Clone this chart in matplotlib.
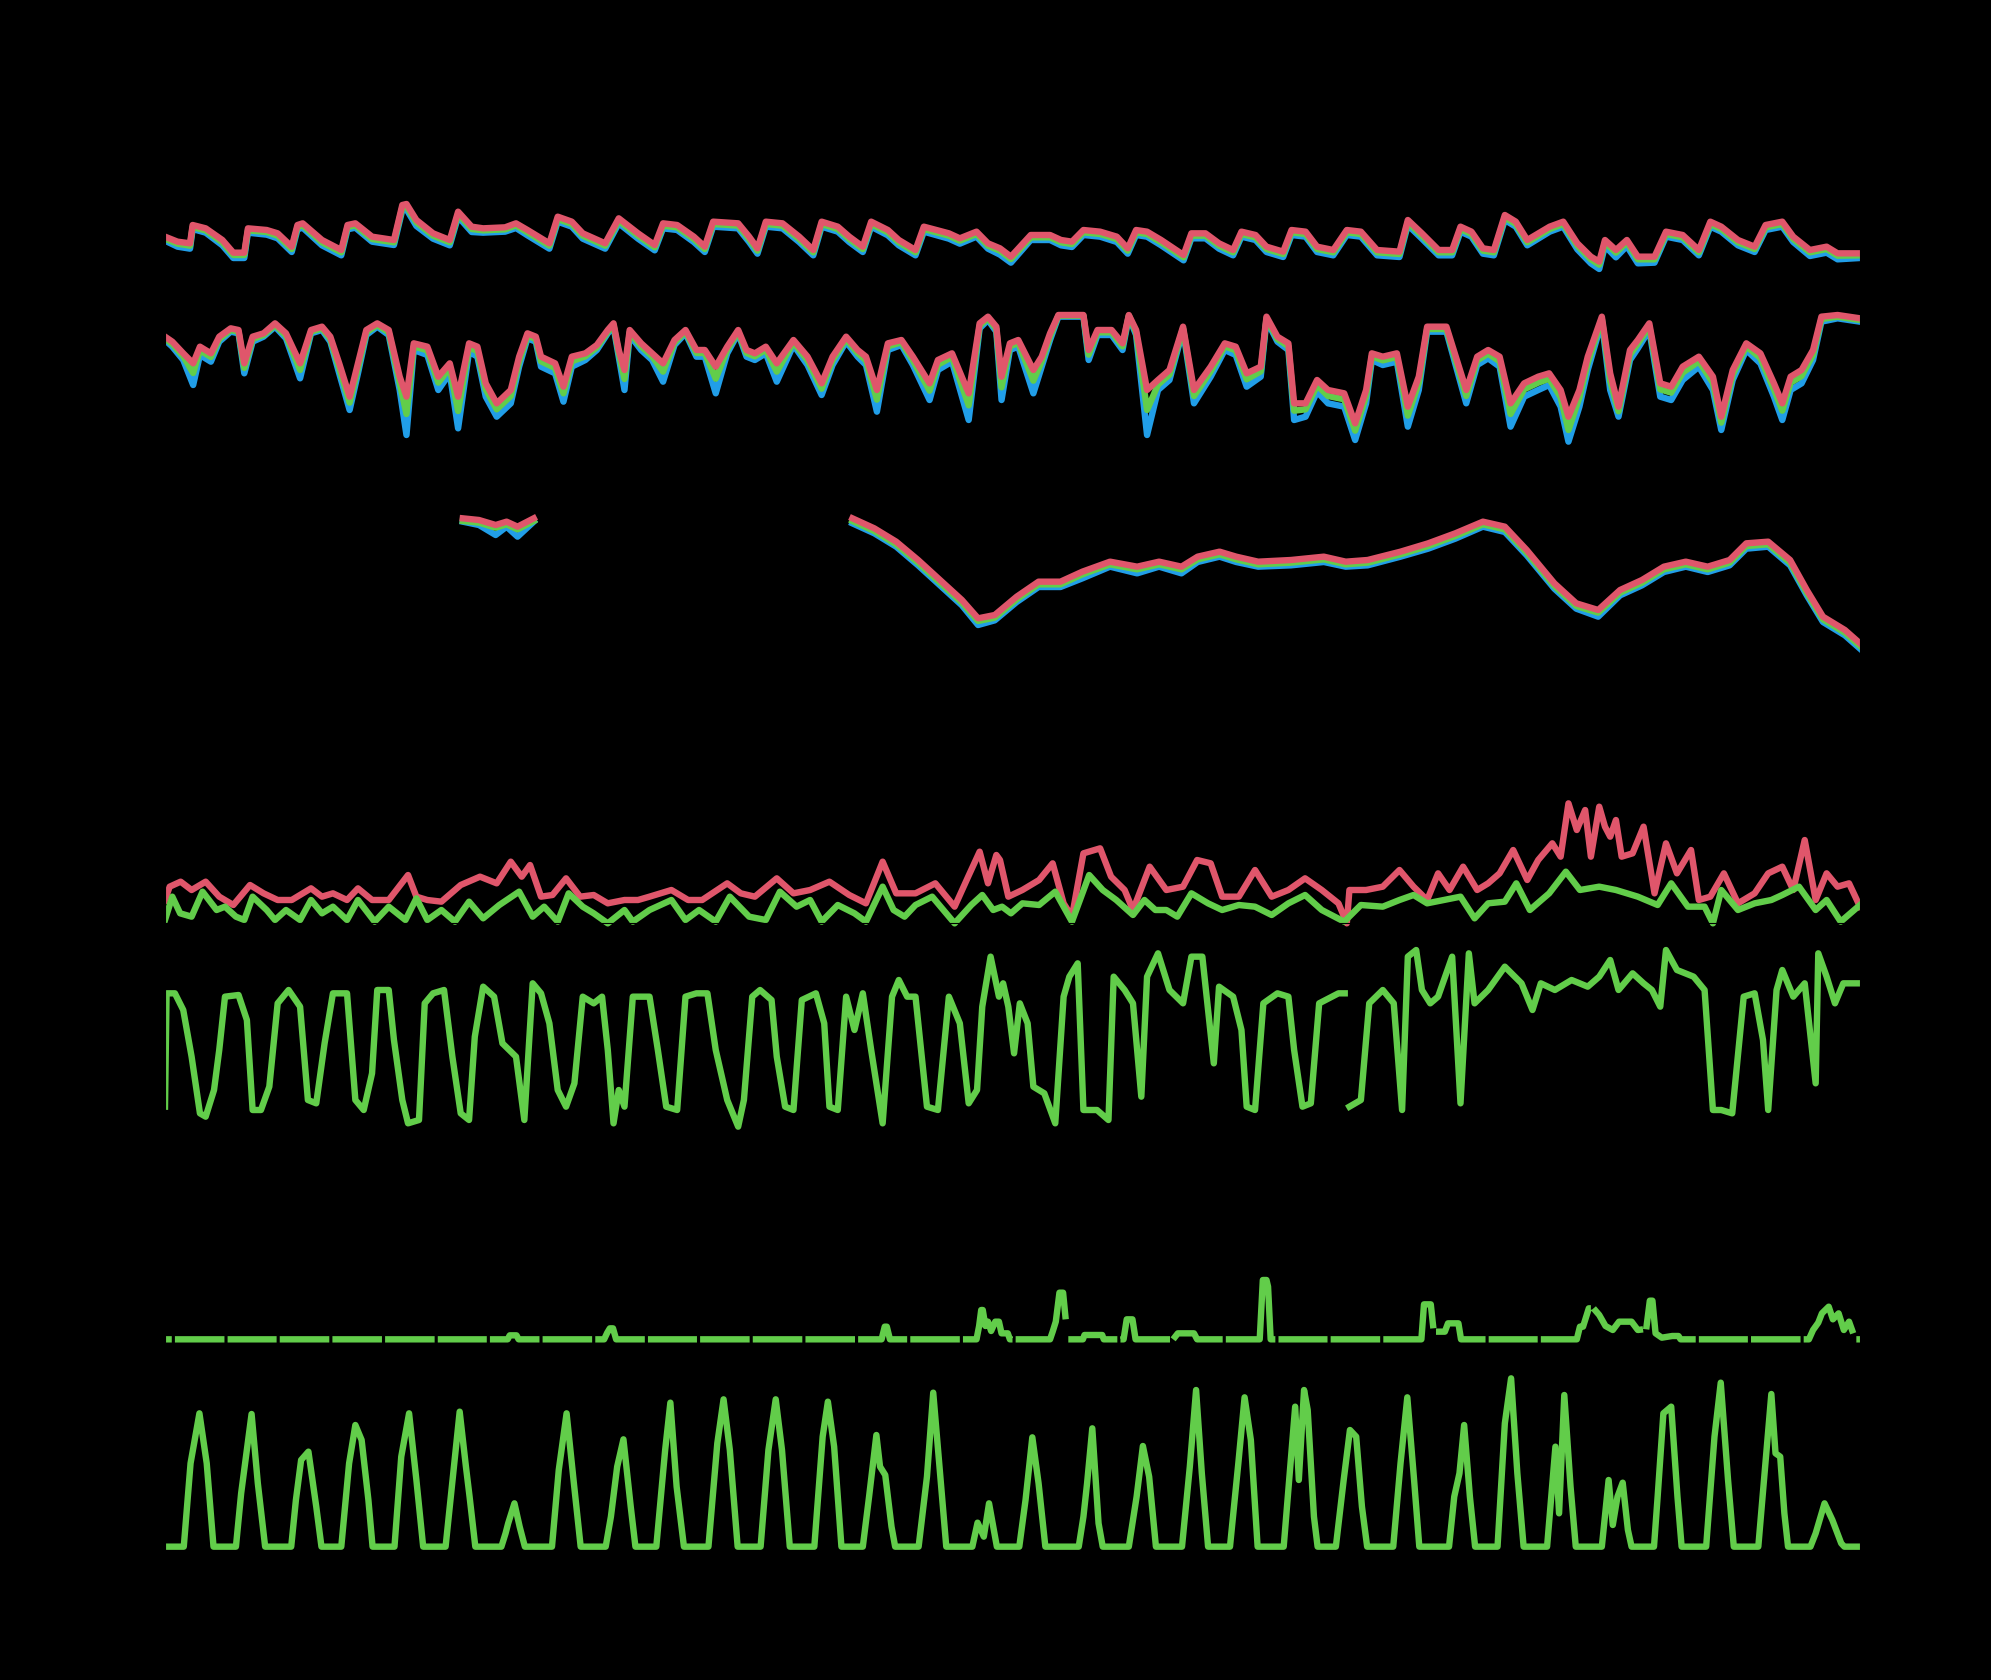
import matplotlib
matplotlib.use("Agg")
import matplotlib.pyplot as plt
import numpy as np

nan = np.nan

RED = "#e0566b"
GREEN = "#62cd4a"
BLUE = "#219ee8"

# ---- panel 1: three sensors, daily cycle ----
p1_t = [0.00, 0.24, 0.48, 0.53, 0.78, 1.10, 1.31, 1.52, 1.59, 1.95,
        2.16, 2.43, 2.54, 2.64, 3.01, 3.38, 3.50, 3.65, 3.97, 4.39,
        4.55, 4.63, 4.82, 5.14, 5.46, 5.62, 5.88, 6.10, 6.52, 6.73,
        6.95, 7.37, 7.53, 7.80, 8.01, 8.44, 8.70, 9.07, 9.39, 9.55,
        9.82, 10.14, 10.35, 10.51, 10.99, 11.20, 11.36, 11.52, 11.84, 12.16,
        12.43, 12.59, 12.90, 13.12, 13.38, 13.54, 13.86, 14.07, 14.39, 14.55,
        15.03, 15.24, 15.56, 15.78, 16.01, 16.22, 16.60, 16.97, 17.18, 17.39,
        17.61, 17.93, 18.25, 18.46, 18.62, 18.83, 19.10, 19.53, 19.68, 19.95,
        20.21, 20.48, 20.64, 20.91, 21.12, 21.44, 21.60, 21.87, 22.09, 22.40,
        22.66, 22.93, 23.24, 23.67, 23.83, 24.10, 24.42, 24.68, 24.84, 25.05,
        25.27, 25.48, 25.69, 25.90, 26.12, 26.55, 26.81, 27.08, 27.34, 27.50,
        27.61, 27.82, 28.03, 28.24, 28.56, 28.78, 29.10, 29.41, 29.63, 29.84,
        30.16, 30.48, 30.69, 31.01, 31.22, 31.54, 31.86, 32.07, 32.50]
p1_red = [16.0, 14.5, 14.0, 19.5, 18.5, 15.0, 11.2, 11.2, 18.5, 18.0,
          17.0, 13.0, 19.5, 20.0, 15.0, 12.0, 19.5, 20.0, 16.0, 15.0,
          25.5, 25.8, 21.0, 17.0, 15.0, 23.5, 19.0, 18.5, 18.8, 20.0,
          18.0, 14.0, 22.0, 20.5, 17.0, 14.0, 21.5, 17.0, 13.5, 20.0,
          19.5, 16.0, 13.0, 20.5, 20.0, 16.0, 12.5, 20.5, 20.0, 16.0,
          12.0, 20.5, 19.0, 16.0, 13.0, 20.5, 18.0, 15.0, 12.0, 19.0,
          17.0, 15.5, 17.5, 14.0, 12.5, 10.0, 16.5, 16.5, 15.0, 14.5,
          18.0, 17.5, 16.0, 12.5, 18.0, 17.5, 15.0, 10.5, 17.0, 17.0,
          14.0, 12.0, 17.5, 16.5, 13.0, 11.5, 18.0, 17.5, 13.0, 12.0,
          18.0, 17.5, 12.0, 11.5, 21.0, 17.0, 12.0, 12.0, 19.0, 17.5,
          12.5, 12.0, 22.5, 20.5, 15.0, 19.0, 20.5, 14.0, 10.0, 8.5,
          15.0, 12.0, 15.0, 10.0, 10.0, 17.5, 16.5, 12.0, 20.5, 19.0,
          15.0, 13.0, 19.5, 20.5, 16.0, 12.0, 13.0, 11.0, 11.0]
p1_green = [15.4, 13.9, 13.3, 18.9, 17.9, 14.3, 10.5, 10.5, 17.9, 17.4,
            16.3, 12.3, 18.9, 19.4, 14.3, 11.3, 18.9, 19.4, 15.3, 14.3,
            24.8, 25.1, 20.3, 16.3, 14.3, 22.8, 18.3, 17.9, 18.2, 19.4,
            17.3, 13.3, 21.3, 19.8, 16.3, 13.3, 20.8, 16.3, 12.8, 19.3,
            18.8, 15.3, 12.3, 19.8, 19.3, 15.3, 11.8, 19.8, 19.3, 15.3,
            11.3, 19.8, 18.3, 15.3, 12.3, 19.8, 17.3, 14.3, 11.3, 18.3,
            16.3, 14.8, 16.8, 13.3, 11.8, 9.3, 15.8, 15.8, 14.3, 13.8,
            17.3, 16.8, 15.3, 11.8, 17.3, 16.8, 14.3, 9.8, 16.3, 16.3,
            13.3, 11.3, 16.8, 15.8, 12.3, 10.8, 17.3, 16.8, 12.3, 11.3,
            17.3, 16.8, 11.3, 10.8, 20.3, 16.3, 11.3, 11.3, 18.3, 16.8,
            11.8, 11.3, 21.8, 19.8, 14.3, 18.3, 19.8, 13.3, 9.2, 7.6,
            14.3, 11.2, 14.3, 9.2, 9.2, 16.8, 15.8, 11.3, 19.8, 18.3,
            14.3, 12.3, 18.8, 19.8, 15.3, 11.3, 12.3, 10.3, 10.4]
p1_blue = [14.8, 13.0, 12.4, 18.3, 17.2, 13.4, 9.6, 9.6, 17.2, 16.6,
           15.5, 11.4, 18.2, 18.7, 13.4, 10.4, 18.2, 18.7, 14.5, 13.5,
           24.0, 24.2, 19.2, 15.4, 13.4, 22.0, 17.4, 17.2, 17.5, 18.6,
           16.4, 12.4, 20.5, 19.0, 15.4, 12.4, 20.0, 15.4, 11.9, 18.5,
           18.0, 14.4, 11.4, 19.0, 18.5, 14.4, 10.9, 19.0, 18.5, 14.4,
           10.4, 19.0, 17.5, 14.4, 11.4, 19.0, 16.4, 13.4, 10.4, 17.5,
           15.4, 13.9, 16.0, 12.4, 10.6, 8.2, 15.0, 15.0, 13.4, 12.9,
           16.5, 16.0, 14.4, 10.9, 16.5, 16.0, 13.4, 8.9, 15.5, 15.5,
           12.4, 10.4, 16.0, 15.0, 11.4, 9.9, 16.5, 16.0, 11.4, 10.4,
           16.5, 16.0, 10.4, 9.9, 19.5, 15.4, 10.4, 10.4, 17.5, 16.0,
           10.9, 10.4, 21.0, 19.0, 13.4, 17.5, 19.0, 12.2, 8.0, 6.3,
           13.2, 9.8, 13.2, 8.0, 8.2, 16.0, 15.0, 10.4, 19.0, 17.5,
           13.4, 11.4, 18.0, 19.0, 14.4, 10.2, 11.2, 9.2, 9.6]

# ---- panel 2: three sensors ----
p2_t = [0.00, 0.14, 0.35, 0.54, 0.67, 0.88, 1.04, 1.26, 1.41, 1.52,
        1.68, 1.89, 2.11, 2.32, 2.59, 2.80, 3.01, 3.17, 3.34, 3.54,
        3.70, 3.86, 4.07, 4.29, 4.50, 4.63, 4.77, 5.03, 5.24, 5.46,
        5.62, 5.83, 5.99, 6.15, 6.36, 6.63, 6.79, 6.95, 7.11, 7.21,
        7.48, 7.64, 7.80, 8.06, 8.28, 8.49, 8.60, 8.70, 8.81, 8.91,
        9.13, 9.34, 9.55, 9.77, 9.98, 10.19, 10.35, 10.56, 10.78, 10.99,
        11.15, 11.31, 11.52, 11.73, 12.05, 12.32, 12.59, 12.80, 13.06, 13.28,
        13.44, 13.65, 13.86, 14.12, 14.34, 14.66, 14.82, 15.09, 15.41, 15.62,
        15.78, 15.94, 16.04, 16.20, 16.36, 16.65, 16.81, 16.97, 17.13, 17.61,
        17.71, 17.88, 18.15, 18.36, 18.48, 18.62, 18.83, 19.04, 19.26, 19.52,
        19.73, 20.05, 20.32, 20.53, 20.74, 21.01, 21.12, 21.33, 21.54, 21.65,
        21.87, 22.09, 22.30, 22.61, 22.82, 23.03, 23.14, 23.35, 23.62, 23.83,
        24.04, 24.20, 24.57, 24.79, 24.95, 25.16, 25.37, 25.59, 25.80, 26.06,
        26.33, 26.54, 26.76, 26.91, 27.12, 27.28, 27.55, 27.71, 27.87, 28.09,
        28.24, 28.46, 28.67, 28.88, 29.10, 29.41, 29.68, 29.84, 30.06, 30.32,
        30.59, 30.85, 31.01, 31.17, 31.38, 31.60, 31.76, 32.07, 32.29, 32.50]
p2_red = [36.0, 34.5, 31.0, 28.0, 33.0, 31.0, 36.0, 38.5, 38.0, 28.0,
          36.0, 37.0, 40.0, 37.0, 28.0, 38.0, 39.0, 36.0, 28.0, 18.0,
          28.0, 38.0, 40.0, 38.0, 24.0, 18.0, 34.0, 33.0, 24.0, 28.0,
          18.0, 34.0, 33.0, 22.0, 16.0, 20.0, 30.0, 37.0, 36.0, 30.0,
          28.0, 21.0, 30.0, 31.0, 33.5, 38.0, 40.0, 32.0, 26.0, 38.0,
          34.0, 31.0, 28.0, 35.0, 38.0, 32.0, 32.0, 27.0, 33.0, 38.0,
          32.0, 31.0, 33.0, 28.0, 35.0, 30.0, 22.0, 30.0, 36.0, 32.0,
          30.0, 20.0, 34.0, 35.0, 30.0, 22.0, 29.0, 31.0, 19.0, 40.0,
          42.0, 39.0, 24.0, 34.0, 35.0, 26.0, 30.0, 37.0, 42.5, 42.5,
          32.0, 38.0, 38.0, 34.0, 42.5, 38.0, 20.0, 23.0, 26.0, 39.0,
          20.0, 27.0, 34.0, 33.0, 25.0, 27.0, 42.0, 36.0, 34.0, 16.0,
          16.0, 23.0, 20.0, 19.0, 10.0, 20.0, 31.0, 30.0, 31.0, 15.0,
          24.0, 39.0, 39.0, 28.0, 20.0, 30.0, 32.0, 30.0, 16.0, 22.0,
          24.0, 25.0, 20.0, 12.0, 20.0, 30.0, 42.0, 25.0, 15.0, 32.0,
          35.0, 40.0, 22.0, 21.0, 27.0, 30.0, 24.0, 12.0, 26.0, 34.0,
          31.0, 22.0, 16.0, 24.0, 26.0, 32.0, 42.0, 42.5, 42.0, 41.5]
p2_green = [35.5, 33.8, 30.1, 25.1, 31.9, 29.9, 35.3, 38.0, 37.5, 26.6,
            35.3, 36.5, 39.5, 36.3, 26.0, 37.5, 38.5, 35.3, 26.6, 16.2,
            26.6, 37.3, 39.5, 37.3, 22.2, 12.8, 33.1, 31.9, 22.2, 26.6,
            13.7, 32.9, 31.6, 20.2, 14.2, 18.2, 28.6, 36.3, 35.3, 28.6,
            26.6, 19.0, 28.6, 30.1, 32.8, 37.5, 39.5, 31.1, 23.3, 37.3,
            33.1, 30.1, 25.5, 34.3, 37.5, 31.1, 31.1, 23.4, 32.1, 37.5,
            31.1, 30.1, 32.1, 25.5, 34.3, 28.9, 20.4, 28.9, 35.3, 31.1,
            28.9, 17.1, 33.1, 34.3, 28.9, 19.8, 27.6, 29.9, 15.4, 39.3,
            41.5, 38.3, 20.8, 33.1, 34.1, 22.8, 28.6, 36.1, 42.3, 42.3,
            30.6, 37.3, 37.3, 33.1, 42.3, 37.3, 14.0, 21.6, 24.6, 38.5,
            18.2, 25.6, 33.1, 31.9, 23.2, 25.6, 41.5, 35.3, 33.1, 13.8,
            14.2, 21.4, 18.2, 17.2, 7.8, 18.2, 30.1, 28.9, 29.9, 12.3,
            22.2, 38.3, 38.3, 26.6, 18.2, 28.9, 30.9, 28.6, 12.8, 20.2,
            22.2, 23.4, 17.8, 8.0, 17.8, 28.2, 41.3, 22.8, 13.6, 30.6,
            33.9, 39.1, 20.2, 19.2, 25.2, 28.6, 22.2, 10.2, 24.6, 33.1,
            29.6, 20.2, 13.8, 22.2, 24.2, 30.6, 41.3, 42.0, 41.5, 41.0]
p2_blue = [35.0, 33.0, 29.0, 21.5, 30.5, 28.5, 34.5, 37.5, 37.0, 25.0,
           34.5, 36.0, 39.0, 35.5, 23.5, 37.0, 38.0, 34.5, 25.0, 14.0,
           25.0, 36.5, 39.0, 36.5, 20.0, 6.5, 32.0, 30.5, 20.0, 25.0,
           8.5, 31.5, 30.0, 18.0, 12.0, 16.0, 27.0, 35.5, 34.5, 27.0,
           25.0, 16.5, 27.0, 29.0, 32.0, 37.0, 39.0, 30.0, 20.0, 36.5,
           32.0, 29.0, 22.5, 33.5, 37.0, 30.0, 30.0, 19.0, 31.0, 37.0,
           30.0, 29.0, 31.0, 22.5, 33.5, 27.5, 18.5, 27.5, 34.5, 30.0,
           27.5, 13.5, 32.0, 33.5, 27.5, 17.0, 26.0, 28.5, 11.0, 38.5,
           41.0, 37.5, 17.0, 32.0, 33.0, 19.0, 27.0, 35.0, 42.0, 42.0,
           29.0, 36.5, 36.5, 32.0, 42.0, 36.5, 6.5, 20.0, 23.0, 38.0,
           16.0, 24.0, 32.0, 30.5, 21.0, 24.0, 41.0, 34.5, 32.0, 11.0,
           12.0, 19.5, 16.0, 15.0, 5.0, 16.0, 29.0, 27.5, 28.5, 9.0,
           20.0, 37.5, 37.5, 25.0, 16.0, 27.5, 29.5, 27.0, 9.0, 18.0,
           20.0, 21.5, 15.0, 4.5, 15.0, 26.0, 40.5, 20.0, 12.0, 29.0,
           32.5, 38.0, 18.0, 17.0, 23.0, 27.0, 20.0, 8.0, 23.0, 32.0,
           28.0, 18.0, 11.0, 20.0, 22.0, 29.0, 40.5, 41.5, 41.0, 40.5]

# ---- panel 3: three sensors, with a data gap ----
p3_t = [5.71, 6.02, 6.34, 6.55, 6.76, 7.07, 10.00, 13.18, 13.60, 14.02,
        14.44, 14.86, 15.28, 15.59, 15.91, 16.33, 16.75, 17.17, 17.59, 18.12,
        18.64, 19.06, 19.49, 19.80, 20.22, 20.54, 20.96, 21.59, 22.22, 22.64,
        23.06, 23.69, 24.22, 24.74, 25.27, 25.69, 26.11, 26.64, 27.06, 27.48,
        27.90, 28.32, 28.74, 29.16, 29.58, 30.00, 30.32, 30.74, 31.16, 31.48,
        31.79, 32.21, 32.50]
p3_red = [44.5, 44.0, 42.5, 43.5, 42.0, 44.5, nan, 44.5, 41.5, 37.5,
          32.0, 26.0, 20.0, 14.5, 15.5, 21.0, 25.5, 25.5, 28.5, 31.5,
          30.0, 31.5, 30.0, 33.0, 34.5, 33.0, 31.5, 32.0, 33.0, 31.5,
          32.0, 34.5, 37.0, 40.0, 43.5, 42.0, 35.0, 25.0, 19.0, 17.0,
          23.0, 26.0, 30.0, 31.5, 30.0, 32.0, 37.0, 37.5, 32.0, 23.0,
          15.0, 11.0, 7.0]
p3_green = [43.7, 43.2, 41.7, 42.7, 41.2, 43.7, nan, 43.7, 40.7, 36.7,
            31.2, 25.2, 19.2, 13.7, 14.7, 20.2, 24.7, 24.7, 27.7, 30.7,
            29.2, 30.7, 29.2, 32.2, 33.7, 32.2, 30.7, 31.2, 32.2, 30.7,
            31.2, 33.7, 36.2, 39.2, 42.7, 41.2, 34.2, 24.2, 18.2, 16.2,
            22.2, 25.2, 29.2, 30.7, 29.2, 31.2, 36.2, 36.7, 31.2, 22.2,
            14.2, 10.2, 6.2]
p3_blue = [43.5, 42.5, 39.5, 42.0, 39.0, 43.5, nan, 43.0, 40.0, 36.0,
           30.4, 24.4, 18.4, 12.5, 13.9, 19.4, 23.9, 23.9, 26.5, 30.0,
           28.0, 30.0, 28.0, 31.4, 33.0, 31.4, 30.0, 30.4, 31.4, 30.0,
           30.4, 33.0, 35.4, 38.4, 42.0, 40.4, 33.4, 23.4, 17.4, 15.0,
           21.4, 24.4, 28.4, 30.0, 28.4, 30.4, 35.4, 36.0, 30.4, 21.4,
           13.4, 9.4, 5.4]

# ---- panel 4: gust (red) and mean (green) ----
p4_red = [(0.00, 12.0), (0.09, 16.0), (0.30, 17.5), (0.51, 15.0), (0.78, 17.5),
          (1.04, 13.0), (1.31, 10.5), (1.63, 16.5), (1.89, 14.0), (2.16, 12.0),
          (2.43, 12.0), (2.80, 15.5), (3.01, 13.0), (3.22, 14.0), (3.49, 12.0),
          (3.70, 15.5), (3.97, 12.0), (4.29, 12.0), (4.66, 19.5), (4.82, 13.0),
          (5.03, 12.0), (5.30, 11.5), (5.67, 16.5), (6.04, 19.0), (6.36, 17.0),
          (6.63, 23.5), (6.84, 19.0), (7.00, 22.5), (7.21, 13.0), (7.43, 13.5),
          (7.69, 18.5), (7.96, 13.0), (8.22, 13.5), (8.49, 11.0), (8.81, 12.0),
          (9.07, 12.0), (9.29, 13.0), (9.71, 15.0), (10.03, 12.0), (10.30, 12.0),
          (10.78, 17.0), (11.04, 14.0), (11.31, 13.0), (11.73, 18.5), (12.05, 14.0),
          (12.37, 15.0), (12.74, 17.5), (13.12, 13.5), (13.44, 11.0), (13.76, 23.5),
          (14.02, 14.0), (14.39, 14.0), (14.77, 17.0), (15.14, 10.0), (15.40, 19.0),
          (15.62, 26.5), (15.78, 17.0), (15.94, 25.5), (16.01, 24.0), (16.17, 13.0),
          (16.44, 15.0), (16.76, 18.0), (17.02, 23.0), (17.23, 11.0), (17.39, 7.0),
          (17.61, 26.0), (17.93, 27.5), (18.14, 19.0), (18.40, 15.0), (18.56, 9.0),
          (18.88, 22.0), (19.20, 15.0), (19.52, 16.0), (19.79, 24.0), (20.05, 23.0),
          (20.27, 13.0), (20.59, 13.0), (20.90, 21.0), (21.22, 13.0), (21.54, 15.0),
          (21.86, 18.5), (22.18, 15.0), (22.50, 11.0), (22.66, 5.0), (22.71, 15.0),
          (23.03, 15.0), (23.35, 16.0), (23.67, 21.0), (23.94, 16.0), (24.20, 12.0),
          (24.41, 20.0), (24.63, 15.0), (24.89, 22.0), (25.16, 15.0), (25.37, 17.0),
          (25.59, 20.0), (25.85, 27.0), (26.12, 18.0), (26.33, 24.0), (26.60, 29.0),
          (26.76, 25.0), (26.91, 41.0), (27.07, 33.0), (27.23, 39.0), (27.34, 25.0),
          (27.50, 40.0), (27.61, 34.0), (27.71, 31.0), (27.82, 36.0), (27.93, 25.0),
          (28.14, 26.0), (28.35, 34.0), (28.56, 14.0), (28.78, 29.0), (28.99, 20.0),
          (29.26, 27.0), (29.41, 12.0), (29.63, 13.0), (29.89, 20.0), (30.16, 11.0),
          (30.48, 14.0), (30.74, 20.0), (31.01, 22.0), (31.22, 15.0), (31.44, 30.0),
          (31.65, 12.0), (31.86, 20.0), (32.07, 16.0), (32.29, 17.0), (32.50, 10.0)]
p4_green = [(0.00, 6.0), (0.14, 13.0), (0.29, 8.0), (0.51, 7.0), (0.72, 14.5),
            (0.99, 9.0), (1.15, 10.0), (1.36, 7.0), (1.52, 6.0), (1.68, 13.0),
            (1.95, 9.0), (2.11, 6.0), (2.32, 9.0), (2.59, 6.0), (2.80, 12.0),
            (3.01, 8.0), (3.22, 10.0), (3.49, 6.0), (3.70, 12.0), (4.02, 5.5),
            (4.29, 10.0), (4.61, 6.0), (4.82, 12.5), (5.03, 6.0), (5.30, 9.0),
            (5.56, 5.5), (5.83, 11.5), (6.10, 6.5), (6.41, 10.5), (6.79, 14.5),
            (7.05, 7.0), (7.27, 10.0), (7.53, 5.5), (7.74, 14.0), (8.01, 10.0),
            (8.22, 8.0), (8.49, 5.0), (8.81, 9.0), (8.97, 5.5), (9.29, 9.0),
            (9.71, 12.0), (9.98, 6.0), (10.24, 9.0), (10.56, 5.5), (10.83, 13.0),
            (11.20, 7.0), (11.52, 6.0), (11.79, 14.5), (12.11, 10.0), (12.37, 12.0),
            (12.59, 5.5), (12.90, 10.5), (13.22, 8.0), (13.44, 5.5), (13.76, 16.0),
            (13.97, 9.0), (14.18, 7.0), (14.39, 10.5), (14.71, 13.0), (15.14, 5.0),
            (15.46, 10.5), (15.67, 13.5), (15.88, 9.0), (16.05, 10.0), (16.22, 8.0),
            (16.44, 11.0), (16.76, 10.5), (17.07, 14.5), (17.39, 5.5), (17.72, 19.5),
            (17.98, 15.0), (18.24, 12.0), (18.56, 7.5), (18.78, 12.0), (18.99, 9.0),
            (19.20, 9.0), (19.41, 7.0), (19.68, 14.0), (20.00, 11.0), (20.27, 9.0),
            (20.59, 10.5), (20.90, 10.0), (21.22, 7.5), (21.54, 11.0), (21.86, 13.5),
            (22.18, 9.0), (22.61, 5.5), (22.93, 10.5), (23.35, 10.0), (23.67, 12.0),
            (23.94, 13.5), (24.20, 11.0), (24.52, 12.0), (24.84, 13.0), (25.11, 6.5),
            (25.37, 11.0), (25.69, 11.5), (25.91, 17.0), (26.17, 9.0), (26.54, 14.0),
            (26.86, 20.5), (27.13, 15.0), (27.50, 16.0), (27.82, 15.0), (28.24, 13.0),
            (28.62, 10.5), (28.88, 17.0), (29.20, 10.0), (29.52, 10.0), (29.68, 5.0),
            (29.84, 15.0), (30.16, 9.0), (30.48, 11.0), (30.80, 12.0), (31.01, 13.5),
            (31.33, 16.0), (31.65, 9.0), (31.86, 12.0), (32.13, 5.5), (32.50, 10.5)]

# ---- panel 5: single series, saturating daily swings ----
p5 = [(0.00, 15.0), (0.03, 49.0), (0.19, 49.0), (0.35, 44.0), (0.51, 30.0),
      (0.67, 13.0), (0.78, 12.0), (0.94, 20.0), (1.04, 32.0), (1.15, 48.0),
      (1.41, 48.5), (1.57, 41.0), (1.68, 14.0), (1.84, 14.0), (2.00, 21.0),
      (2.16, 46.0), (2.37, 50.0), (2.59, 45.0), (2.74, 17.0), (2.90, 16.0),
      (3.06, 34.0), (3.22, 49.0), (3.49, 49.0), (3.65, 17.0), (3.81, 14.0),
      (3.97, 25.0), (4.07, 50.0), (4.29, 50.0), (4.39, 35.0), (4.55, 17.0),
      (4.66, 10.0), (4.87, 11.0), (4.98, 46.0), (5.14, 49.0), (5.35, 50.0),
      (5.51, 30.0), (5.67, 13.0), (5.83, 11.0), (5.94, 36.0), (6.10, 51.0),
      (6.31, 48.0), (6.47, 34.0), (6.73, 30.0), (6.89, 11.0), (7.05, 52.0),
      (7.21, 49.0), (7.37, 40.0), (7.53, 20.0), (7.69, 15.0), (7.85, 22.0),
      (8.01, 48.0), (8.22, 46.0), (8.38, 48.0), (8.49, 32.0), (8.60, 10.0),
      (8.70, 20.0), (8.81, 15.0), (8.97, 48.0), (9.29, 48.0), (9.45, 32.0),
      (9.61, 15.0), (9.82, 14.0), (9.98, 48.0), (10.19, 49.0), (10.40, 49.0),
      (10.56, 32.0), (10.78, 17.0), (10.99, 9.0), (11.10, 17.0), (11.26, 48.0),
      (11.41, 50.0), (11.63, 47.0), (11.73, 30.0), (11.89, 15.0), (12.05, 14.0),
      (12.21, 47.0), (12.48, 49.0), (12.64, 40.0), (12.74, 15.0), (12.90, 14.0),
      (13.06, 48.0), (13.22, 38.0), (13.38, 49.0), (13.54, 32.0), (13.76, 10.0),
      (13.94, 48.0), (14.07, 53.0), (14.23, 48.0), (14.39, 48.0), (14.61, 15.0),
      (14.82, 14.0), (15.03, 48.0), (15.24, 40.0), (15.41, 16.0), (15.57, 20.0),
      (15.67, 45.0), (15.83, 60.0), (15.99, 48.0), (16.07, 52.0), (16.17, 45.0),
      (16.28, 31.0), (16.39, 46.0), (16.54, 40.0), (16.65, 21.0), (16.86, 19.0),
      (17.07, 10.0), (17.23, 48.0), (17.34, 54.0), (17.50, 58.0), (17.61, 14.0),
      (17.87, 14.0), (18.09, 11.0), (18.19, 54.0), (18.40, 50.0), (18.56, 46.0),
      (18.72, 18.0), (18.83, 54.0), (19.04, 61.0), (19.26, 50.0), (19.52, 46.0),
      (19.68, 60.0), (19.89, 60.0), (20.11, 28.0), (20.21, 51.0), (20.48, 48.0),
      (20.64, 38.0), (20.74, 15.0), (20.90, 14.0), (21.06, 46.0), (21.33, 49.0),
      (21.54, 48.0), (21.65, 32.0), (21.81, 15.0), (21.97, 16.0), (22.13, 46.0),
      (22.50, 49.0), (22.62, 49.0), (22.66, nan), (22.71, 15.0), (22.93, 17.0),
      (23.09, 46.0), (23.35, 50.0), (23.56, 46.0), (23.72, 14.0), (23.83, 60.0),
      (23.99, 62.0), (24.10, 50.0), (24.26, 46.0), (24.41, 48.0), (24.68, 60.0),
      (24.84, 16.0), (25.00, 61.0), (25.11, 46.0), (25.37, 50.0), (25.69, 57.0),
      (26.01, 52.0), (26.22, 44.0), (26.38, 52.0), (26.65, 50.0), (26.97, 53.0),
      (27.28, 51.0), (27.50, 54.0), (27.71, 59.0), (27.87, 50.0), (28.14, 55.0),
      (28.35, 52.0), (28.51, 50.0), (28.67, 45.0), (28.78, 62.0), (28.99, 56.0),
      (29.31, 54.0), (29.52, 50.0), (29.68, 14.0), (29.84, 14.0), (30.05, 13.0),
      (30.27, 48.0), (30.48, 49.0), (30.64, 35.0), (30.74, 14.0), (30.90, 50.0),
      (31.01, 56.0), (31.22, 48.0), (31.44, 52.0), (31.65, 22.0), (31.70, 61.0),
      (31.86, 54.0), (32.02, 46.0), (32.18, 52.0), (32.50, 52.0)]

# ---- panel 6: rain, the logger drops one record a day ----
p6 = [(0.00, 0), (0.13, 0), (0.16, nan), (0.19, 0),
      (1.14, 0), (1.17, nan), (1.20, 0),
      (2.14, 0), (2.17, nan), (2.20, 0),
      (3.15, 0), (3.18, nan), (3.21, 0),
      (4.16, 0), (4.19, nan), (4.22, 0),
      (5.17, 0), (5.20, nan), (5.23, 0),
      (6.17, 0), (6.20, nan), (6.23, 0),
      (6.57, 0), (6.61, 1.2), (6.74, 1.2), (6.78, 0),
      (7.18, 0), (7.21, nan), (7.24, 0),
      (8.19, 0), (8.22, nan), (8.25, 0),
      (8.42, 0), (8.48, 2.0), (8.53, 3.3), (8.59, 3.3), (8.65, 0),
      (9.20, 0), (9.23, nan), (9.26, 0),
      (10.20, 0), (10.23, nan), (10.26, 0),
      (11.21, 0), (11.24, nan), (11.27, 0),
      (12.22, 0), (12.25, nan), (12.28, 0),
      (13.23, 0), (13.26, nan), (13.29, 0),
      (13.74, 0), (13.80, 3.8), (13.84, 3.8), (13.90, 0),
      (14.23, 0), (14.26, nan), (14.29, 0),
      (15.24, 0), (15.27, nan), (15.30, 0),
      (15.56, 0), (15.61, 4.0), (15.65, 8.8), (15.68, 8.8), (15.73, 4.0),
      (15.78, 5.3), (15.84, 2.5), (15.92, 5.3), (15.99, 5.3), (16.04, 1.8),
      (16.16, 1.8), (16.20, 0),
      (16.25, 0), (16.28, nan), (16.31, 0),
      (16.97, 0), (17.02, 2.3), (17.08, 5.3), (17.15, 14.0), (17.22, 14.0),
      (17.27, 6.0), (17.29, nan), (17.32, 0),
      (17.60, 0), (17.63, 1.3), (17.97, 1.3), (18.00, 0),
      (18.26, 0), (18.29, nan), (18.32, 0),
      (18.38, 0), (18.44, 6.0), (18.55, 6.0), (18.61, 0),
      (19.27, 0), (19.30, nan), (19.33, 0),
      (19.42, 1.8), (19.73, 1.8), (19.79, 0),
      (20.28, 0), (20.31, nan), (20.34, 0),
      (20.99, 0), (21.05, 17.8), (21.12, 17.8), (21.15, 15.8), (21.20, 0),
      (21.29, 0), (21.32, nan), (21.35, 0),
      (22.29, 0), (22.32, nan), (22.35, 0),
      (23.30, 0), (23.33, nan), (23.36, 0),
      (24.09, 0), (24.14, 10.5), (24.27, 10.5), (24.32, 3.3), (24.34, nan),
      (24.37, 2.3), (24.54, 2.3), (24.60, 4.8), (24.80, 4.8), (24.85, 0),
      (25.32, 0), (25.35, nan), (25.38, 0),
      (26.32, 0), (26.35, nan), (26.38, 0),
      (27.07, 0), (27.13, 3.8), (27.19, 3.8), (27.30, 9.3), (27.34, 9.3),
      (27.36, nan), (27.39, 9.3), (27.50, 7.3), (27.62, 4.0), (27.76, 2.8),
      (27.88, 5.3), (28.12, 5.3), (28.24, 2.8), (28.34, 3.0), (28.37, nan),
      (28.40, 3.0), (28.47, 11.6), (28.52, 11.6), (28.58, 1.8), (28.70, 0.5),
      (28.90, 1.0), (29.02, 1.0), (29.06, 0),
      (29.35, 0), (29.38, nan), (29.41, 0),
      (30.35, 0), (30.38, nan), (30.41, 0),
      (31.36, 0), (31.39, nan), (31.42, 0),
      (31.52, 0), (31.60, 2.8), (31.70, 5.0), (31.77, 7.8), (31.90, 9.8),
      (31.98, 6.0), (32.09, 7.8), (32.19, 2.8), (32.29, 5.3), (32.37, 1.8),
      (32.40, nan), (32.43, 0), (32.50, 0)]

# ---- panel 7: daily radiation peaks ----
p7 = [(0.00, 0), (0.36, 0), (0.49, 25.0), (0.66, 40.0), (0.80, 25.0), (0.93, 0),
      (1.36, 0), (1.46, 16.0), (1.66, 39.8), (1.78, 19.0), (1.92, 0),
      (2.42, 0), (2.51, 14.0), (2.61, 26.0), (2.75, 28.5), (2.90, 12.0), (3.00, 0),
      (3.38, 0), (3.53, 25.0), (3.65, 36.5), (3.77, 32.0), (3.90, 14.0), (3.98, 0),
      (4.40, 0), (4.53, 27.0), (4.68, 40.0), (4.82, 20.0), (4.95, 0),
      (5.38, 0), (5.50, 18.0), (5.65, 40.5), (5.77, 24.0), (5.84, 15.0), (5.95, 0),
      (6.45, 0), (6.53, 4.0), (6.58, 7.0), (6.70, 13.0), (6.80, 6.0), (6.90, 0),
      (7.42, 0), (7.55, 23.0), (7.70, 40.0), (7.84, 19.0), (7.97, 0),
      (8.45, 0), (8.55, 9.0), (8.67, 24.0), (8.79, 32.2), (8.93, 12.0), (9.02, 0),
      (9.42, 0), (9.59, 29.0), (9.69, 43.2), (9.81, 18.0), (9.95, 0),
      (10.42, 0), (10.59, 31.0), (10.71, 44.2), (10.83, 29.0), (10.98, 0),
      (11.42, 0), (11.57, 29.0), (11.71, 44.2), (11.83, 29.0), (11.98, 0),
      (12.45, 0), (12.61, 33.0), (12.71, 43.5), (12.83, 30.0), (12.97, 0),
      (13.38, 0), (13.50, 15.0), (13.64, 33.5), (13.71, 24.0), (13.81, 21.5),
      (13.93, 6.0), (14.00, 0),
      (14.45, 0), (14.61, 21.0), (14.73, 46.2), (14.85, 24.0), (14.98, 0),
      (15.48, 0), (15.58, 7.2), (15.70, 3.0), (15.80, 13.0), (15.95, 0),
      (16.38, 0), (16.50, 14.0), (16.63, 32.8), (16.75, 19.0), (16.88, 0),
      (17.52, 0), (17.61, 9.0), (17.68, 19.0), (17.78, 35.5), (17.90, 7.0), (17.98, 0),
      (18.48, 0), (18.63, 15.0), (18.75, 30.2), (18.87, 21.0), (19.00, 0),
      (19.50, 0), (19.65, 24.0), (19.77, 47.0), (19.88, 22.0), (20.00, 0),
      (20.42, 0), (20.58, 25.0), (20.70, 44.8), (20.82, 32.0), (20.95, 0),
      (21.45, 0), (21.55, 19.0), (21.67, 42.0), (21.74, 20.0), (21.84, 47.0),
      (21.91, 41.0), (22.03, 9.0), (22.10, 0),
      (22.45, 0), (22.60, 20.0), (22.72, 35.0), (22.84, 33.0), (22.95, 12.0), (23.05, 0),
      (23.55, 0), (23.69, 25.0), (23.82, 44.8), (23.95, 20.0), (24.05, 0),
      (24.62, 0), (24.72, 15.0), (24.82, 22.0), (24.91, 36.5), (25.02, 15.0), (25.12, 0),
      (25.55, 0), (25.69, 37.0), (25.81, 50.5), (25.93, 22.0), (26.05, 0),
      (26.50, 0), (26.66, 30.0), (26.73, 10.0), (26.83, 45.5), (26.95, 18.0), (27.05, 0),
      (27.55, 0), (27.68, 20.0), (27.76, 6.5), (27.85, 15.0), (27.95, 19.2),
      (28.05, 5.0), (28.12, 0),
      (28.55, 0), (28.62, 15.0), (28.73, 40.0), (28.88, 42.0), (29.00, 15.0), (29.08, 0),
      (29.55, 0), (29.71, 33.0), (29.83, 49.2), (29.97, 20.0), (30.08, 0),
      (30.55, 0), (30.68, 24.0), (30.80, 45.8), (30.88, 28.0), (30.97, 27.0),
      (31.05, 10.0), (31.12, 0),
      (31.55, 0), (31.65, 4.0), (31.82, 13.0), (31.97, 8.0), (32.14, 1.0), (32.20, 0),
      (32.50, 0)]


W, H = 1991, 1680
X0, X1 = 165, 1860
T_END = 32.5
LW = 4.6


def add_panel(fig, top_px, bottom_px, ylim):
    ax = fig.add_axes([X0 / W, 1 - bottom_px / H, (X1 - X0) / W, (bottom_px - top_px) / H])
    ax.set_xlim(0, T_END)
    ax.set_ylim(*ylim)
    ax.set_facecolor("none")
    for spine in ax.spines.values():
        spine.set_color("black")
    ax.tick_params(colors="black", labelcolor="black")
    return ax


def pairs(rows):
    arr = np.array(rows, dtype=float)
    return arr[:, 0], arr[:, 1]


fig = plt.figure(figsize=(W / 100, H / 100), dpi=100, facecolor="black")

ax1 = add_panel(fig, 190, 273.33, (5, 30))
for vals, col in [(p1_blue, BLUE), (p1_green, GREEN), (p1_red, RED)]:
    ax1.plot(p1_t, vals, color=col, lw=LW)

ax2 = add_panel(fig, 306.67, 456.67, (0, 45))
for vals, col in [(p2_blue, BLUE), (p2_green, GREEN), (p2_red, RED)]:
    ax2.plot(p2_t, vals, color=col, lw=LW)

ax3 = add_panel(fig, 500, 666.67, (0, 50))
for vals, col in [(p3_blue, BLUE), (p3_green, GREEN), (p3_red, RED)]:
    ax3.plot(p3_t, vals, color=col, lw=LW)

ax4 = add_panel(fig, 790, 940, (0, 45))
ax4.plot(*pairs(p4_red), color=RED, lw=LW)
ax4.plot(*pairs(p4_green), color=GREEN, lw=LW)

ax5 = add_panel(fig, 923.33, 1156.67, (0, 70))
ax5.plot(*pairs(p5), color=GREEN, lw=LW)

ax6 = add_panel(fig, 1272.67, 1346, (-2, 20))
ax6.plot(*pairs(p6), color=GREEN, lw=LW, solid_capstyle="butt")

ax7 = add_panel(fig, 1373.33, 1553.33, (-2, 52))
ax7.plot(*pairs(p7), color=GREEN, lw=LW)

fig.savefig("out.png", dpi=100, facecolor="black")
